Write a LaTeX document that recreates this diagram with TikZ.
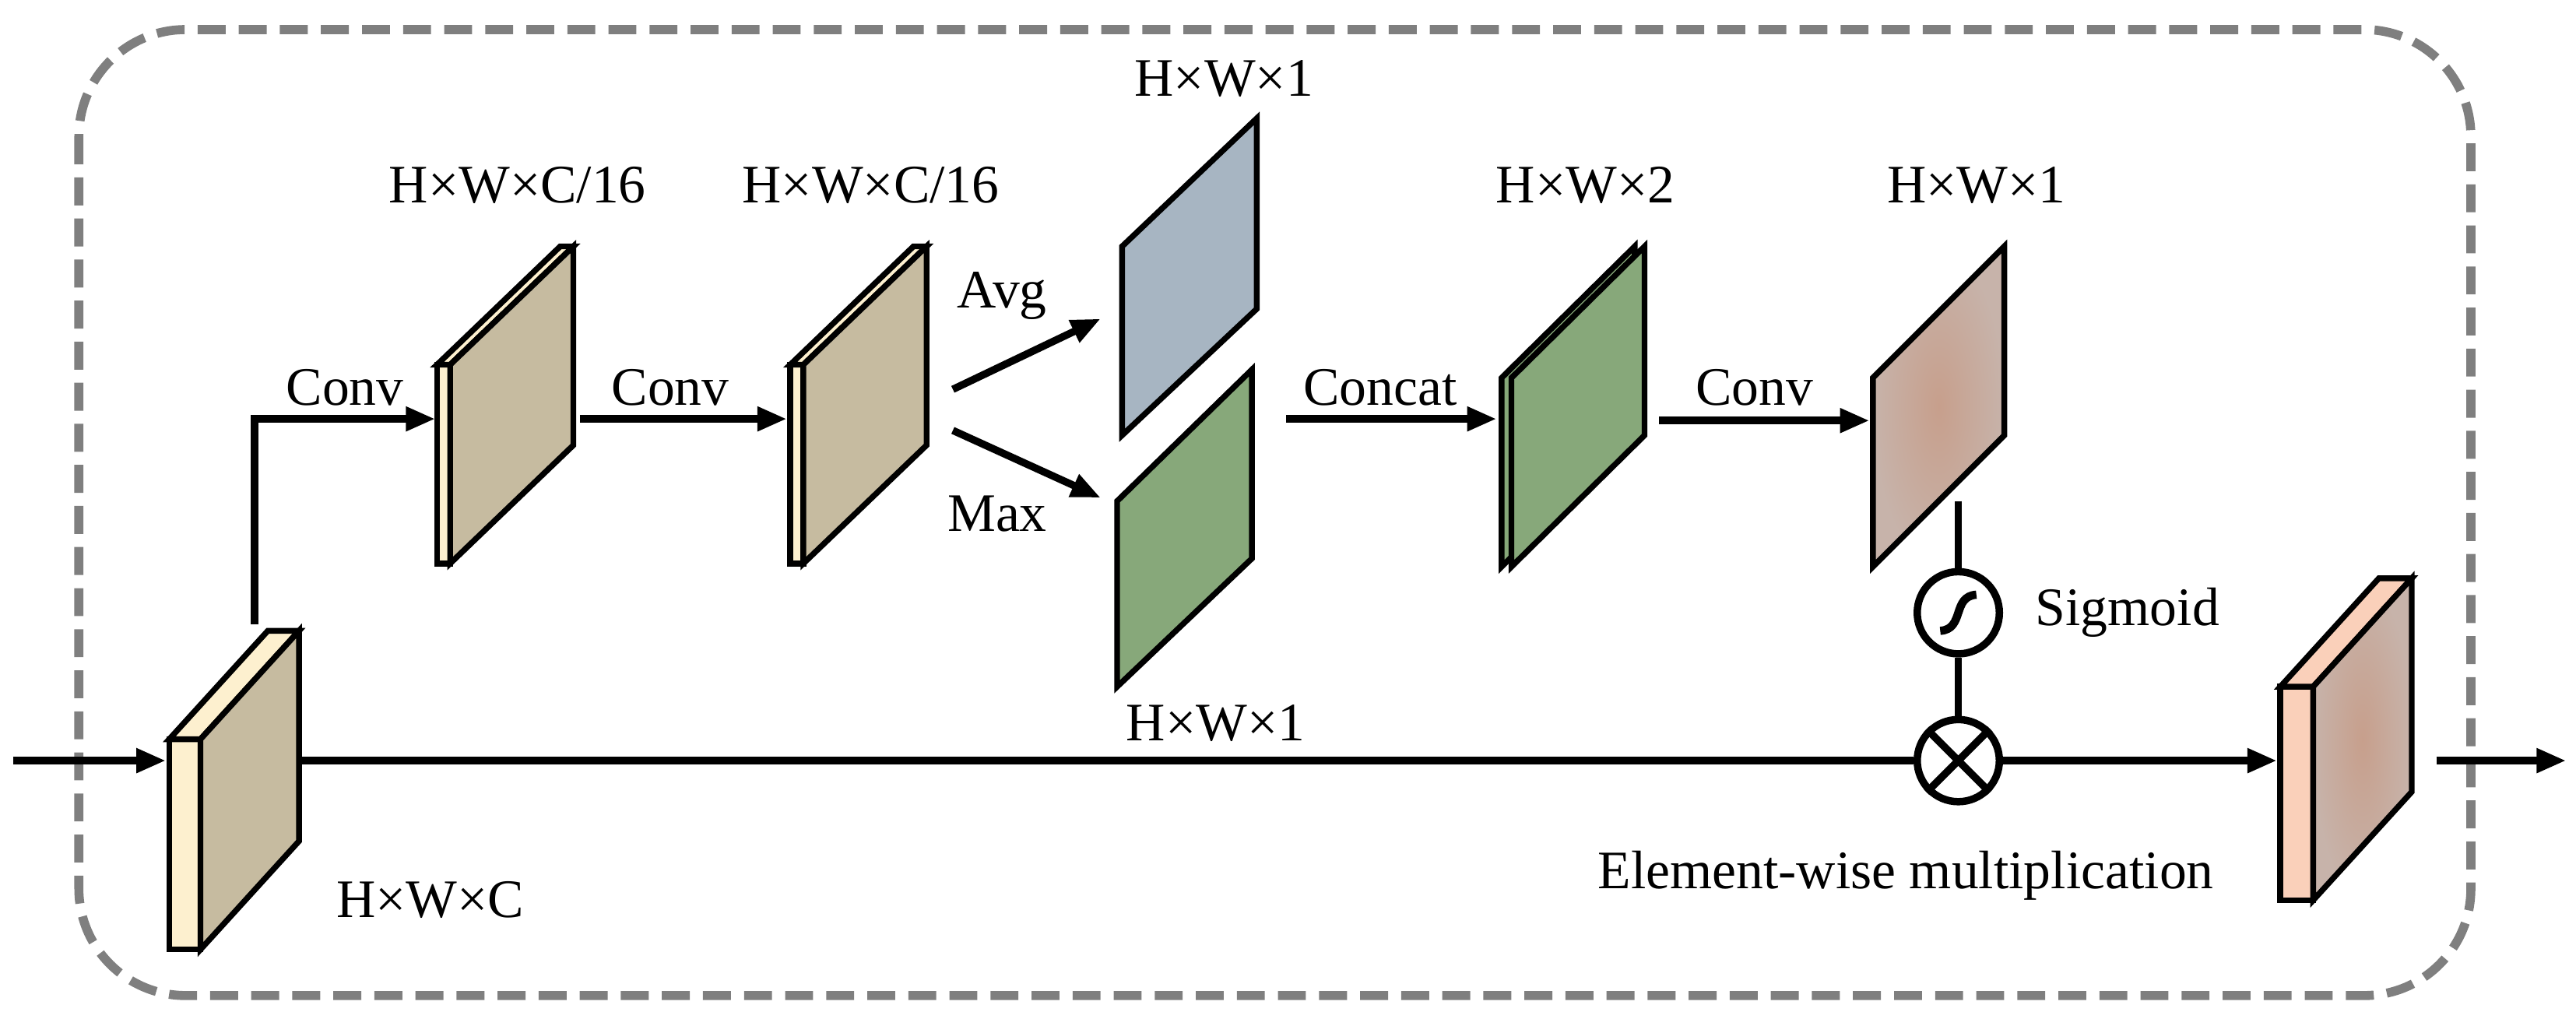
\documentclass[tikz,border=0pt]{standalone}
\usepackage{fontspec}
\setmainfont{Liberation Serif}
\usetikzlibrary{arrows.meta}
\definecolor{tan}{HTML}{C6BBA0}
\definecolor{cream}{HTML}{FDF0CF}
\definecolor{bgray}{HTML}{A7B5C2}
\definecolor{grn}{HTML}{87A87A}
\definecolor{pinkA}{HTML}{C79F8C}
\definecolor{pinkB}{HTML}{C7B3AA}
\definecolor{peach}{HTML}{FAD0BA}
\definecolor{dgray}{HTML}{7F7F7F}
\tikzset{
  ln/.style={line width=4.5pt},
  arr/.style={ln,-{Triangle[length=18pt,width=14pt]}},
  fc/.style={draw=black,line width=3.5pt,line join=miter},
  lab/.style={font=\fontsize{33}{36}\selectfont,inner sep=0pt}
}
% block: x1 x2 ytop ybot dx dy frontcol sidefill
\newcommand\myblk[8]{
  \filldraw[fc,fill=#7] (#1,#3) rectangle (#2,#4);
  \filldraw[fc,fill=#7] (#1,#3) -- ({#1+#5},{#3+#6}) -- ({#2+#5},{#3+#6}) -- (#2,#3) -- cycle;
  \filldraw[fc,#8] (#2,#3) -- ({#2+#5},{#3+#6}) -- ({#2+#5},{#4+#6}) -- (#2,#4) -- cycle;
}
% plane: xl ytopl ybotl xr ytopr ybotr style
\newcommand\myplane[7]{
  \filldraw[fc,#7] (#1,#2) -- (#4,#5) -- (#4,#6) -- (#1,#3) -- cycle;
}
\begin{document}
\begin{tikzpicture}[x=1pt,y=-1pt]
\useasboundingbox (0,0) rectangle (1568,620);
\draw[dgray,line width=5.5pt,dash pattern=on 17pt off 8pt,rounded corners=65pt] (48,18) rectangle (1504,606);

% input block
\myblk{103}{122}{450}{578}{60}{-66}{cream}{fill=tan}
% conv blocks
\myblk{266}{274}{222}{343}{75}{-72}{cream}{fill=tan}
\myblk{481}{489}{222}{343}{75}{-72}{cream}{fill=tan}
% avg / max planes
\myplane{683}{150}{265}{765}{72}{188}{fill=bgray}
\myplane{680}{305}{418}{762}{225}{340}{fill=grn}
% concat planes
\myplane{914}{230}{345}{995}{150}{265}{fill=grn}
\myplane{920}{230}{345}{1001}{150}{265}{fill=grn}
% attention map
\myplane{1140}{230}{345}{1220}{150}{265}{inner color=pinkA,outer color=pinkB,shading=radial}
% output block
\myblk{1388}{1408}{418}{548}{60}{-66}{peach}{inner color=pinkA,outer color=pinkB,shading=radial}

% nodes for connectors
\coordinate (in) at (8,463);
\coordinate (b1in) at (101,463);
\coordinate (b1out) at (182,463);
\coordinate (br0) at (155,380);
\coordinate (br1) at (155,255);
\coordinate (b2in) at (265,255);
\coordinate (b2out) at (353,255);
\coordinate (b3in) at (479,255);
\coordinate (a0) at (580,237);
\coordinate (a1) at (670,194);
\coordinate (m0) at (580,262);
\coordinate (m1) at (670,303);
\coordinate (c0) at (783,255);
\coordinate (c1) at (911,255);
\coordinate (d0) at (1010,256);
\coordinate (d1) at (1138,256);
\coordinate (v0) at (1192,305);
\node[circle,draw,line width=4.5pt,minimum size=50pt,inner sep=0pt] (sig) at (1192,373) {};
\node[circle,draw,line width=4.5pt,minimum size=50pt,inner sep=0pt] (mul) at (1192,463) {};
\coordinate (oin) at (1386,463);
\coordinate (o0) at (1483,463);
\coordinate (o1) at (1562,463);

\draw[arr] (in) -- (b1in);
\draw[ln] (b1out) -- (mul.west);
\draw[arr] (br0) -- (br1) -- (b2in);
\draw[arr] (b2out) -- (b3in);
\draw[arr] (a0) -- (a1);
\draw[arr] (m0) -- (m1);
\draw[arr] (c0) -- (c1);
\draw[arr] (d0) -- (d1);
\draw[ln] (v0) -- (sig.north);
\draw[ln] (sig.south) -- (mul.north);
\draw[arr] (mul.east) -- (oin);
\draw[arr] (o0) -- (o1);
% symbols
\draw[ln] (mul.north west) -- (mul.south east);
\draw[ln] (mul.north east) -- (mul.south west);
\draw[line width=5pt] ([shift={(-11,11)}]sig.center) .. controls ([shift={(4,10)}]sig.center) and ([shift={(-4,-10)}]sig.center) .. ([shift={(11,-11)}]sig.center);

% labels
\node[lab] at (210,236) {Conv};
\node[lab] at (408,236) {Conv};
\node[lab] at (315,113) {H×W×C/16};
\node[lab] at (530,113) {H×W×C/16};
\node[lab] at (745,48) {H×W×1};
\node[lab] at (740,440) {H×W×1};
\node[lab] at (610,180) {Avg};
\node[lab] at (607,313) {Max};
\node[lab] at (840,236) {Concat};
\node[lab] at (965,113) {H×W×2};
\node[lab] at (1068,236) {Conv};
\node[lab] at (1203,113) {H×W×1};
\node[lab] at (1295,373) {Sigmoid};
\node[lab] at (1160,533) {Element-wise multiplication};
\node[lab] at (262,548) {H×W×C};
\end{tikzpicture}
\end{document}
